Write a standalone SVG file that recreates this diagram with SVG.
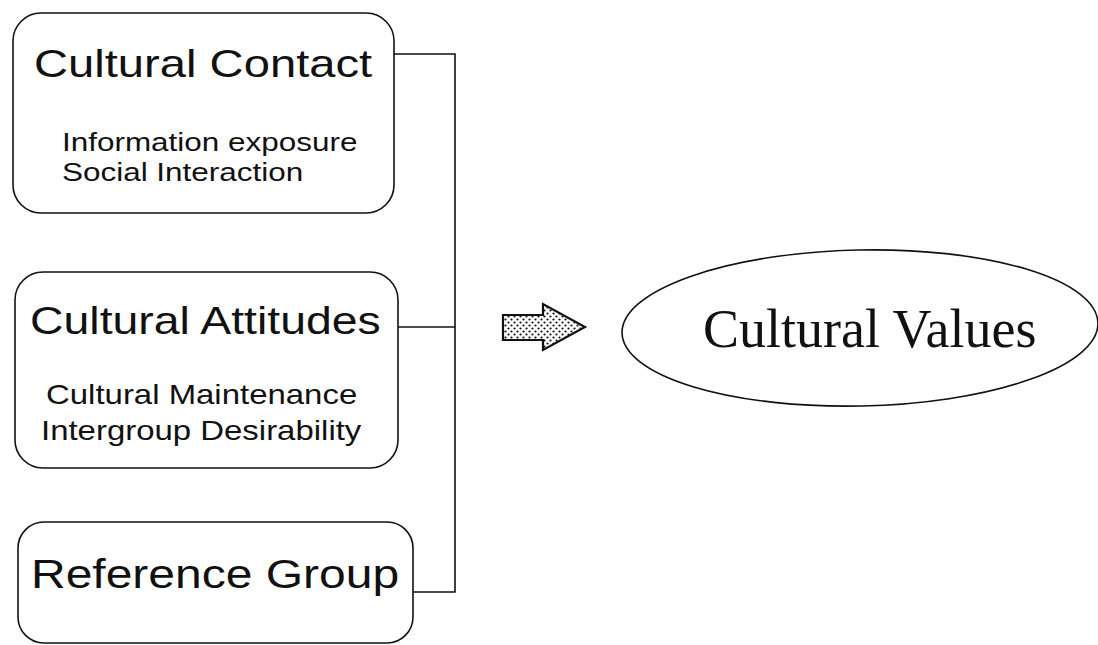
<svg xmlns="http://www.w3.org/2000/svg" width="1098" height="645" viewBox="0 0 1098 645">
  <style>
    .box { fill: #ffffff; stroke: #111111; stroke-width: 1.6; }
    .title { font-family: "Liberation Sans", Arial, sans-serif; font-size: 39px; fill: #111111; }
    .sub { font-family: "Liberation Sans", Arial, sans-serif; font-size: 26px; fill: #111111; }
    .serif { font-family: "Liberation Serif", "Times New Roman", serif; font-size: 54px; fill: #111111; }
    .wire { fill: none; stroke: #111111; stroke-width: 1.6; }
  </style>
  <defs>
    <pattern id="dots" width="6" height="6" patternUnits="userSpaceOnUse">
      <rect width="6" height="6" fill="#ffffff"/>
      <circle cx="1.5" cy="1.5" r="1.1" fill="#111111"/>
      <circle cx="4.5" cy="4.5" r="1.1" fill="#111111"/>
    </pattern>
  </defs>

  <rect width="1098" height="645" fill="#ffffff"/>

  <!-- connectors: three boxes joined by a vertical bus -->
  <g id="connectors">
    <polyline class="wire" points="394,54 455,54 455,592 413,592"/>
    <line class="wire" x1="398" y1="327" x2="455" y2="327"/>
    <!-- block arrow toward the outcome -->
    <polygon points="503,315 543,315 543,304 585,327 543,350 543,340 503,340" fill="url(#dots)" stroke="#111111" stroke-width="2.2" stroke-linejoin="miter"/>
  </g>

  <!-- sans labels are set a little wide (horizontal scale ~1.2) -->
  <g id="cultural-contact">
    <rect class="box" x="13" y="13" width="381" height="200" rx="28" ry="28"/>
    <text class="title" transform="translate(34 77) scale(1.21 1)">Cultural Contact</text>
    <text class="sub" transform="translate(62 151) scale(1.21 1)">Information exposure</text>
    <text class="sub" transform="translate(62 181) scale(1.21 1)">Social Interaction</text>
  </g>

  <g id="cultural-attitudes">
    <rect class="box" x="15" y="272" width="383" height="196" rx="28" ry="28"/>
    <text class="title" transform="translate(30 334) scale(1.19 1)">Cultural Attitudes</text>
    <text class="sub" style="font-size:27px" transform="translate(46 404) scale(1.22 1)">Cultural Maintenance</text>
    <text class="sub" style="font-size:27px" transform="translate(41 440) scale(1.22 1)">Intergroup Desirability</text>
  </g>

  <g id="reference-group">
    <rect class="box" x="18" y="522" width="395" height="121" rx="26" ry="26"/>
    <text class="title" style="font-size:40px" transform="translate(31 588) scale(1.2 1)">Reference Group</text>
  </g>

  <g id="cultural-values">
    <ellipse class="box" cx="860" cy="328" rx="238" ry="78" transform="rotate(-1.2 860 328)"/>
    <text class="serif" x="703" y="347">Cultural Values</text>
  </g>
</svg>
